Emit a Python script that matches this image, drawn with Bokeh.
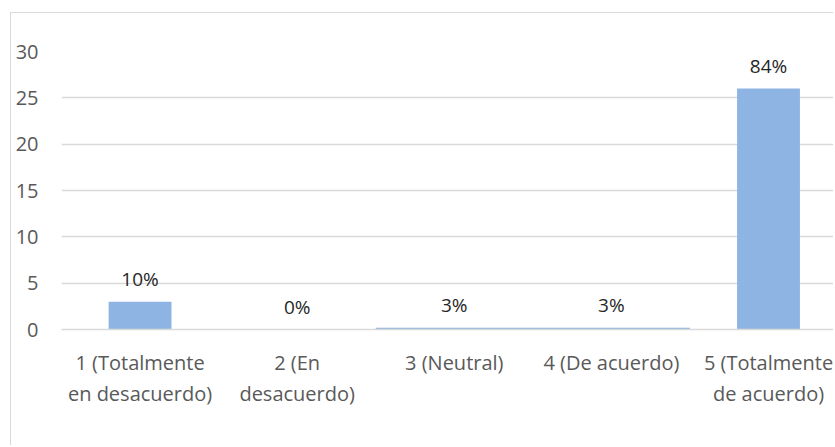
from bokeh.plotting import figure
from bokeh.models import ColumnDataSource, FixedTicker, Range1d
from bokeh.core.properties import value
from bokeh.embed import file_html
from bokeh.resources import INLINE

# Data
positions = [1, 2, 3, 4, 5]
categories = ["1 (Totalmente\nen desacuerdo)", "2 (En\ndesacuerdo)", "3 (Neutral)",
              "4 (De acuerdo)", "5 (Totalmente\nde acuerdo)"]
bar_heights = [3, 0, 0.2, 0.2, 26]
pct_labels = ["10%", "0%", "3%", "3%", "84%"]
bar_widths = [0.4, 0.4, 1.0, 1.0, 0.4]
y_ticks = [0, 5, 10, 15, 20, 25, 30]

FONT = "Open Sans"

src = ColumnDataSource(dict(x=positions, top=bar_heights, lab=pct_labels, w=bar_widths))

p = figure(width=823, height=433, output_backend="svg", toolbar_location=None,
           x_range=Range1d(0.5, 5.42), y_range=Range1d(0, 30),
           min_border_left=50, min_border_right=0, min_border_top=38, min_border_bottom=117)
p.styles = {"border-left": "1.5px solid #d9d9d9", "border-top": "1.5px solid #d9d9d9",
            "margin-left": "10px", "margin-top": "12px"}
p.outline_line_color = None
p.background_fill_color = "white"
p.border_fill_color = "white"

p.vbar(x="x", top="top", width="w", bottom=0, source=src,
       fill_color="#8DB4E2", line_color=None)

p.text(x="x", y="top", text="lab", source=src, text_align="center",
       text_baseline="bottom", y_offset=-10, text_font=value(FONT),
       text_font_size="19px", text_color="#262626")

# axes
p.xaxis.ticker = FixedTicker(ticks=positions)
p.xaxis.major_label_overrides = {i: c for i, c in zip(positions, categories)}
p.yaxis.ticker = FixedTicker(ticks=y_ticks)
for ax in (p.xaxis[0], p.yaxis[0]):
    ax.major_tick_line_color = None
    ax.minor_tick_line_color = None
    ax.major_label_text_font = FONT
    ax.major_label_text_font_size = "20px"
    ax.major_label_text_color = "#595959"
p.yaxis.axis_line_color = None
p.yaxis.major_label_standoff = 17
p.xaxis.axis_line_color = "#d9d9d9"
p.xaxis.axis_line_width = 1.5
p.xaxis.major_label_standoff = 13
p.xaxis.major_label_text_line_height = 1.15

p.xgrid.grid_line_color = None
p.ygrid.ticker = FixedTicker(ticks=y_ticks)
p.ygrid.grid_line_color = "#d9d9d9"
p.ygrid.grid_line_width = 1.5

open("out.html", "w").write(file_html(p, INLINE))
